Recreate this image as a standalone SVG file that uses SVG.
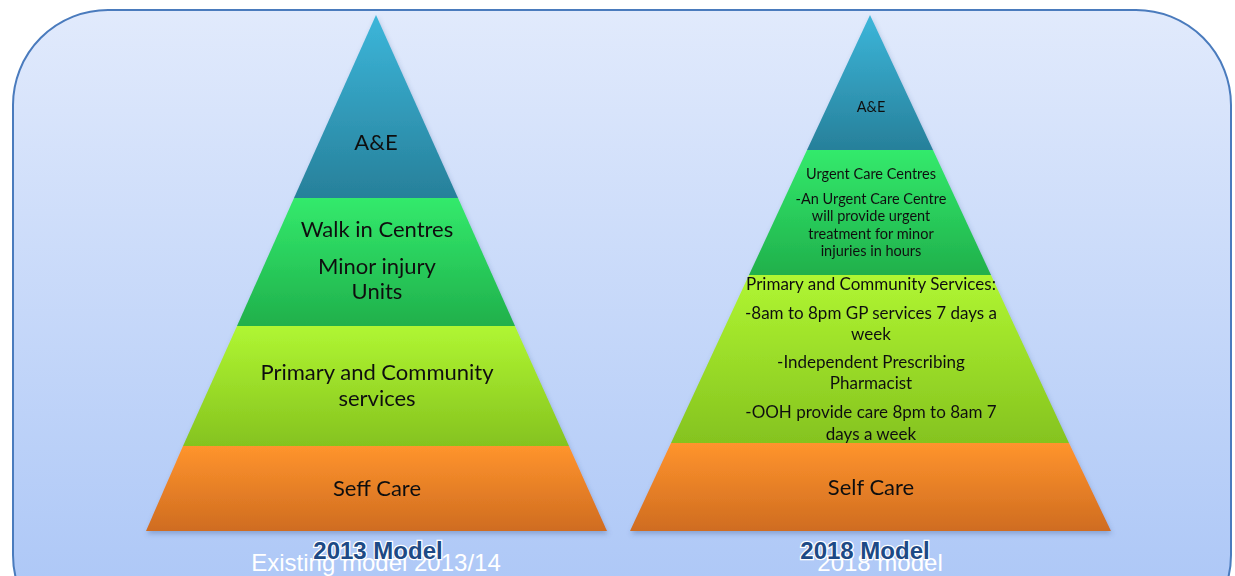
<svg xmlns="http://www.w3.org/2000/svg" width="1235" height="576" viewBox="0 0 1235 576">
<defs>
<linearGradient id="bg" x1="0" y1="0" x2="0" y2="1"><stop offset="0" stop-color="#e1eafc"/><stop offset="1" stop-color="#a8c4f6"/></linearGradient>
<linearGradient id="gAE" x1="0" y1="0" x2="0" y2="1"><stop offset="0" stop-color="#3cb6da"/><stop offset="1" stop-color="#27809a"/></linearGradient>
<linearGradient id="gGreen" x1="0" y1="0" x2="0" y2="1"><stop offset="0" stop-color="#33ea6c"/><stop offset="1" stop-color="#20b04b"/></linearGradient>
<linearGradient id="gLime" x1="0" y1="0" x2="0" y2="1"><stop offset="0" stop-color="#b0f632"/><stop offset="1" stop-color="#85c31f"/></linearGradient>
<linearGradient id="gOrange" x1="0" y1="0" x2="0" y2="1"><stop offset="0" stop-color="#ff942d"/><stop offset="1" stop-color="#cf6c20"/></linearGradient>
<filter id="sh" x="-5%" y="-5%" width="110%" height="110%"><feDropShadow dx="1" dy="3" stdDeviation="2.5" flood-color="#3a5a90" flood-opacity="0.35"/></filter>
</defs>
<style>
.t{font-family:Lato,"Open Sans",sans-serif;fill:#111;text-anchor:middle}
.big{font-size:22px}
.mid{font-size:17px}
.sm{font-size:14.5px}
.cap{font-family:"Liberation Sans",Arial,sans-serif;font-size:24px;fill:#ffffff;text-anchor:middle}
.mod{font-family:"Liberation Sans",Arial,sans-serif;font-size:24px;font-weight:bold;fill:#1d4a85;stroke:#ffffff;stroke-width:2.5;paint-order:stroke;text-anchor:middle}
</style>
<rect id="panel" x="13" y="10" width="1218" height="640" rx="95" ry="95" fill="url(#bg)" stroke="#4a7bbd" stroke-width="2"/>
<g id="left-pyramid" filter="url(#sh)">
<g id="l-ae"><polygon points="376,15 458,198 294,198" fill="url(#gAE)"/><text class="t big" x="376" y="150">A&amp;E</text></g>
<g id="l-walk"><polygon points="294,198 458,198 515,326 237,326" fill="url(#gGreen)"/><text class="t big" x="377" y="237">Walk in Centres</text><text class="t big" x="377" y="274">Minor injury</text><text class="t big" x="377" y="299">Units</text></g>
<g id="l-primary"><polygon points="237,326 515,326 569,446 183,446" fill="url(#gLime)"/><text class="t big" x="377" y="380">Primary and Community</text><text class="t big" x="377" y="406">services</text></g>
<g id="l-self"><polygon points="183,446 569,446 607,531 146,531" fill="url(#gOrange)"/><text class="t big" x="377" y="496">Seff Care</text></g>
</g>
<g id="right-pyramid" filter="url(#sh)">
<g id="r-ae"><polygon points="870,15 933,150 807,150" fill="url(#gAE)"/><text class="t sm" x="871" y="112">A&amp;E</text></g>
<g id="r-urgent"><polygon points="807,150 933,150 991,275 749,275" fill="url(#gGreen)"/><text class="t sm" x="871" y="179">Urgent Care Centres</text><text class="t sm" x="871" y="204">-An Urgent Care Centre</text><text class="t sm" x="871" y="221">will provide urgent</text><text class="t sm" x="871" y="239">treatment for minor</text><text class="t sm" x="871" y="256">injuries in hours</text></g>
<g id="r-primary"><polygon points="749,275 991,275 1069,443 671,443" fill="url(#gLime)"/><text class="t mid" x="871" y="290">Primary and Community Services:</text><text class="t mid" x="871" y="319">-8am to 8pm GP services 7 days a</text><text class="t mid" x="871" y="340">week</text><text class="t mid" x="871" y="368">-Independent Prescribing</text><text class="t mid" x="871" y="389">Pharmacist</text><text class="t mid" x="871" y="418">-OOH provide care 8pm to 8am 7</text><text class="t mid" x="871" y="440">days a week</text></g>
<g id="r-self"><polygon points="671,443 1069,443 1111,531 630,531" fill="url(#gOrange)"/><text class="t big" x="871" y="495">Self Care</text></g>
</g>
<g id="captions">
<text class="cap" x="376" y="571">Existing model 2013/14</text>
<text class="mod" x="378" y="559">2013 Model</text>
<text class="cap" x="880" y="571">2018 model</text>
<text class="mod" x="865" y="559">2018 Model</text>
</g>
<g id="connectors"/>
</svg>
